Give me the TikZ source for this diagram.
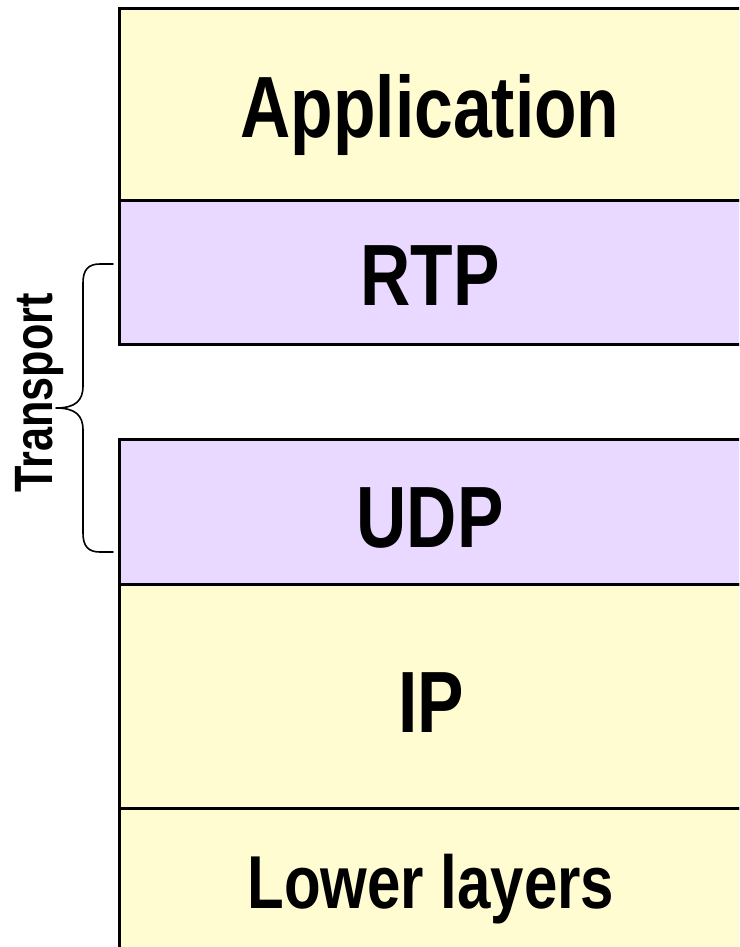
\documentclass[tikz,border=0pt]{standalone}
\usepackage{fontspec}
\setmainfont{Liberation Sans}[FakeStretch=0.8]
\definecolor{layeryellow}{HTML}{FFFCD2}
\definecolor{layerpurple}{HTML}{E9D8FF}
\tikzset{
  layer/.style={draw=black, line width=3.4pt, rectangle, inner sep=0pt,
    anchor=north west, minimum width=640pt},
  biglabel/.style={anchor=base, inner sep=0pt,
    font=\bfseries\fontsize{87}{90}\selectfont},
  smalllabel/.style={anchor=base, inner sep=0pt,
    font=\bfseries\fontsize{75}{78}\selectfont},
  sidelabel/.style={anchor=base, inner sep=0pt, rotate=90,
    font=\bfseries\fontsize{54}{58}\selectfont},
  bracket/.style={draw=black, line width=1.6pt, line cap=round, line join=round}
}
\begin{document}
\begin{tikzpicture}[x=1pt, y=-1pt]
\useasboundingbox (0,0) rectangle (739,947);
\begin{scope}
\clip (0,0) rectangle (739,947);
% protocol stack
\node[layer, fill=layeryellow, minimum height=192pt] (app) at (118,7) {};
\node[layer, fill=layerpurple, minimum height=144pt] (rtp) at (118,199) {};
\node[layer, fill=layerpurple, minimum height=145pt] (udp) at (118,438) {};
\node[layer, fill=layeryellow, minimum height=224pt] (ip) at (118,583) {};
\node[layer, fill=layeryellow, minimum height=160pt] (low) at (118,807) {};
\end{scope}
% layer names
\node[biglabel] (tapp) at (430,138) {Application};
\node[biglabel] (trtp) at (430,305) {RTP};
\node[biglabel] (tudp) at (430,547) {UDP};
\node[biglabel] (tip) at (431,732) {IP};
\node[smalllabel] (tlow) at (431,908) {Lower layers};
% transport brace
\coordinate (btop) at (113,264);
\coordinate (bbot) at (113,552);
\coordinate (btip) at (56,408);
\draw[bracket] (btop) -- (100,264) .. controls (88,264) and (83,270) .. (83,283)
  -- (83,386) .. controls (83,401) and (75,408) .. (btip)
  .. controls (75,408) and (83,415) .. (83,430)
  -- (83,533) .. controls (83,546) and (88,552) .. (100,552) -- (bbot);
\node[sidelabel] (ttransport) at (52,393) {Transport};
\end{tikzpicture}
\end{document}
